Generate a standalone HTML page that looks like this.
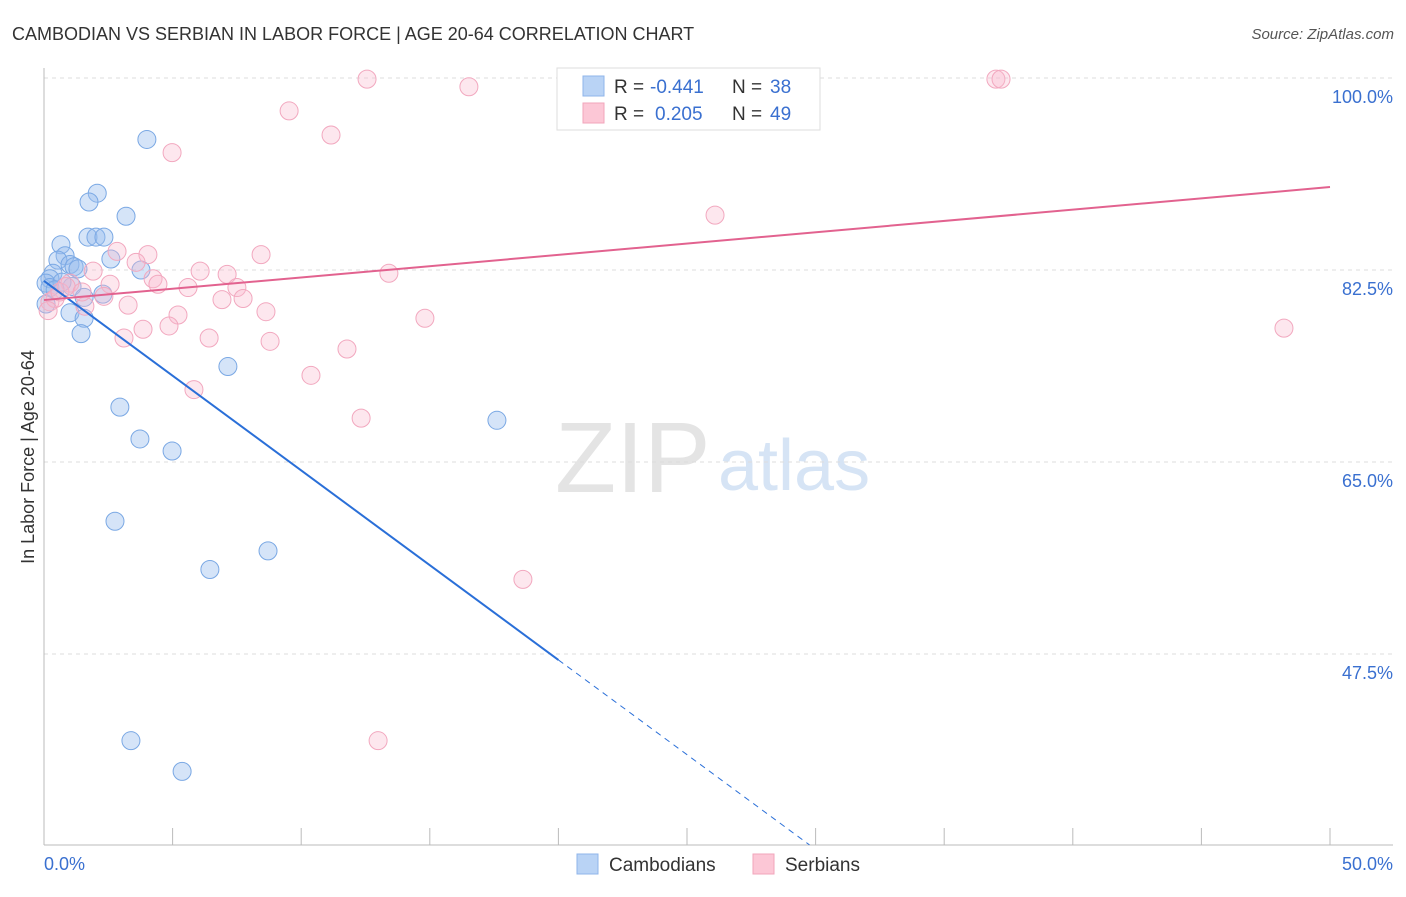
<!DOCTYPE html>
<html><head><meta charset="utf-8"><style>
body{margin:0;background:#fff;font-family:"Liberation Sans",sans-serif}
svg text{font-family:"Liberation Sans",sans-serif}
</style></head><body>
<svg id="chart" width="1406" height="892" xmlns="http://www.w3.org/2000/svg">
<text x="12" y="40" font-size="18" fill="#333">CAMBODIAN VS SERBIAN IN LABOR FORCE | AGE 20-64 CORRELATION CHART</text>
<text x="1394" y="39" font-size="15" fill="#555" text-anchor="end" font-style="italic">Source: ZipAtlas.com</text>
<text x="555" y="492" font-size="100" fill="#e4e4e4" font-family="Liberation Serif">ZIP</text>
<text x="718" y="490" font-size="72" fill="#d6e4f5">atlas</text>
<text transform="translate(34,457) rotate(-90)" font-size="18" fill="#333" text-anchor="middle">In Labor Force | Age 20-64</text>
<g id="grid"></g><g id="axes"></g><g id="pts"></g><g id="lines"></g>
<g>
<rect x="557" y="68" width="263" height="62" fill="#fff" stroke="#ddd"/>
<rect x="583" y="76" width="21" height="20" fill="#b9d3f5" stroke="#8fb4ea"/>
<rect x="583" y="103" width="21" height="20" fill="#fcc7d6" stroke="#f2a5bb"/>
<text x="614" y="93" font-size="19" fill="#333">R =</text>
<text x="650" y="93" font-size="19" fill="#3a70d0">-0.441</text>
<text x="732" y="93" font-size="19" fill="#333">N =</text>
<text x="770" y="93" font-size="19" fill="#3a70d0">38</text>
<text x="614" y="120" font-size="19" fill="#333">R =</text>
<text x="655" y="120" font-size="19" fill="#3a70d0">0.205</text>
<text x="732" y="120" font-size="19" fill="#333">N =</text>
<text x="770" y="120" font-size="19" fill="#3a70d0">49</text>
</g>
<g>
<rect x="577" y="854" width="21" height="20" fill="#b9d3f5" stroke="#8fb4ea"/>
<text x="609" y="871" font-size="19" fill="#333">Cambodians</text>
<rect x="753" y="854" width="21" height="20" fill="#fcc7d6" stroke="#f2a5bb"/>
<text x="785" y="871" font-size="19" fill="#333">Serbians</text>
</g>
</svg>
<script>
const yTicks=[100,82.5,65,47.5];
const yTickLabels=["100.0%","82.5%","65.0%","47.5%"];
const blueX=[4.0,2.07,1.75,3.19,1.71,2.02,2.33,0.66,0.82,0.54,1.01,1.17,1.32,0.35,0.23,3.77,2.6,0.08,0.23,1.09,1.56,2.29,0.08,1.01,1.56,1.44,7.15,2.95,3.73,4.98,17.61,2.76,8.71,6.45,3.38,5.37,0.70,0.43];
const blueY=[94.4,89.5,88.7,87.4,85.5,85.5,85.5,84.8,83.8,83.4,83.0,82.8,82.6,82.2,81.7,82.5,83.5,81.3,80.9,81.0,80.0,80.3,79.4,78.6,78.1,76.7,73.7,70.0,67.1,66.0,68.8,59.6,56.9,55.2,39.6,36.8,81.4,80.7];
const pinkX=[12.56,20.57,16.52,37.01,37.21,9.53,11.16,4.98,26.09,2.84,4.04,8.44,3.58,1.91,6.07,13.41,4.24,7.12,4.43,2.57,5.6,7.5,1.01,2.33,6.92,7.74,3.27,5.21,8.63,14.81,3.85,4.86,3.11,6.42,8.79,11.78,10.38,5.83,12.33,18.62,12.99,48.21,0.23,0.43,0.62,1.59,0.16,0.86,1.48];
const pinkY=[99.9,99.9,99.2,99.9,99.9,97.0,94.8,93.2,87.5,84.2,83.9,83.9,83.2,82.4,82.4,82.2,81.7,82.1,81.2,81.2,80.9,80.9,81.3,80.1,79.8,79.9,79.3,78.4,78.7,78.1,77.1,77.4,76.3,76.3,76.0,75.3,72.9,71.6,69.0,54.3,39.6,77.2,79.6,79.9,80.5,79.2,78.8,81.0,80.5];
const blueTrend=[81.5,-1.727];
const pinkTrend=[79.76,0.206];
const X=v=>44+v/50*1286, Y=v=>78+(100-v)/17.5*192;
const NS="http://www.w3.org/2000/svg";
function mk(p,t,a){const e=document.createElementNS(NS,t);for(const k in a)e.setAttribute(k,a[k]);document.getElementById(p).appendChild(e);return e;}
yTicks.forEach((t,i)=>{
 const g=mk('grid','line',{x1:44,x2:1393,y1:Y(t),y2:Y(t),stroke:'#ddd','stroke-dasharray':'4,4'});
 
 
 const l=mk('grid','text',{x:1393,y:Y(t)+25,'font-size':18,fill:'#3a70d0','text-anchor':'end'});
 l.textContent=yTickLabels[i];
 
 
});
mk('axes','line',{x1:44,x2:44,y1:68,y2:845,stroke:'#bbb'});
mk('axes','line',{x1:44,x2:1393,y1:845,y2:845,stroke:'#bbb'});
for(let i=0;i<=10;i++){const t=mk('axes','line',{x1:X(i*5),x2:X(i*5),y1:828,y2:845,stroke:'#bbb'});
 
 }
[["0.0%",44,'start'],["50.0%",1393,'end']].forEach(a=>{const t=mk('axes','text',{x:a[1],y:870,'font-size':18,fill:'#3a70d0','text-anchor':a[2]});t.textContent=a[0];
 
 });
blueX.forEach((v,i)=>{const c=mk('pts','circle',{cx:X(v),cy:Y(blueY[i]),r:9,fill:'rgba(150,188,238,0.4)',stroke:'#7aa8e4','stroke-width':1});
 
 });
pinkX.forEach((v,i)=>{const c=mk('pts','circle',{cx:X(v),cy:Y(pinkY[i]),r:9,fill:'rgba(248,185,205,0.35)',stroke:'#f2a8bf','stroke-width':1});
 
 });
const bx=20, bxe=(30.1-blueTrend[0])/blueTrend[1];
let l=mk('lines','line',{x1:X(0),y1:Y(blueTrend[0]),x2:X(bx),y2:Y(blueTrend[0]+blueTrend[1]*bx),stroke:'#2a6fd8','stroke-width':2});


l=mk('lines','line',{x1:X(bx),y1:Y(blueTrend[0]+blueTrend[1]*bx),x2:X(bxe),y2:Y(30.1),stroke:'#2a6fd8','stroke-width':1,'stroke-dasharray':'6,5'});


l=mk('lines','line',{x1:X(0),y1:Y(pinkTrend[0]),x2:X(50),y2:Y(pinkTrend[0]+pinkTrend[1]*50),stroke:'#e2628f','stroke-width':2});


</script>
</body></html>
